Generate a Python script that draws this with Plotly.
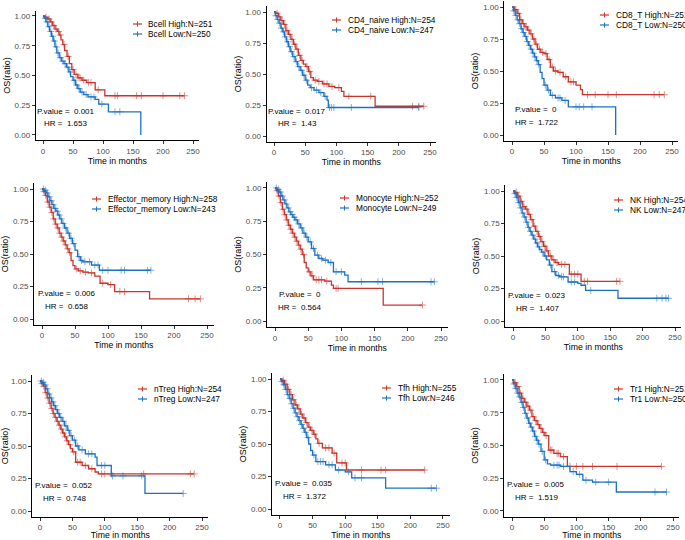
import numpy as np
import plotly.graph_objects as go

W, H = 685, 540
RED = "#C9352B"
BLUE = "#1B72C4"
FONT = "Liberation Sans, Arial, sans-serif"

cells = ["Bcell", "CD4_naive", "CD8_T", "Effector_memory", "Monocyte",
         "NK", "nTreg", "Tfh", "Tr1"]
n_high = [251, 254, 251, 258, 252, 254, 254, 255, 251]
n_low = [250, 247, 250, 243, 249, 247, 247, 246, 250]
p_values = ["0.001", "0.017", "0", "0.006", "0", "0.023", "0.052", "0.035", "0.005"]
hr_values = ["1.653", "1.43", "1.722", "0.658", "0.564", "1.407", "0.748", "1.372", "1.519"]

# event times (months), survival after each event, censor times
bcell_hi_t = [3, 8, 12, 16, 20, 24, 27, 30, 33, 36, 40, 44, 48, 52, 58, 65, 73, 87, 103]
bcell_hi_s = [0.99, 0.975, 0.95, 0.92, 0.89, 0.87, 0.84, 0.80, 0.76, 0.71, 0.66, 0.60, 0.55, 0.51, 0.48, 0.46, 0.44, 0.38, 0.33]
bcell_hi_c = [5, 10, 14, 18, 22, 26, 29, 35, 42, 50, 55, 60, 62, 68, 76, 80, 92, 120, 124, 156, 164, 200, 228, 236]
bcell_lo_t = [2, 5, 8, 11, 14, 17, 20, 23, 27, 31, 35, 39, 43, 46, 50, 54, 58, 62, 68, 75, 87, 93, 109, 163]
bcell_lo_s = [0.98, 0.95, 0.91, 0.87, 0.83, 0.79, 0.74, 0.69, 0.65, 0.62, 0.60, 0.57, 0.53, 0.49, 0.46, 0.42, 0.39, 0.36, 0.34, 0.32, 0.30, 0.26, 0.195, 0.0]
bcell_lo_c = [4, 7, 10, 13, 16, 19, 22, 25, 29, 33, 37, 41, 45, 52, 56, 60, 65, 72, 80, 85, 98, 120, 128]

cd4_hi_t = [3, 7, 11, 15, 19, 23, 27, 31, 35, 39, 43, 47, 51, 55, 59, 63, 70, 78, 88, 97, 108, 112, 162]
cd4_hi_s = [0.99, 0.96, 0.93, 0.90, 0.85, 0.82, 0.78, 0.74, 0.70, 0.65, 0.61, 0.58, 0.56, 0.52, 0.47, 0.45, 0.44, 0.42, 0.40, 0.39, 0.36, 0.32, 0.24]
cd4_hi_c = [5, 9, 13, 17, 21, 25, 29, 33, 37, 41, 45, 53, 57, 66, 72, 80, 85, 93, 104, 120, 155, 222, 232, 240]
cd4_lo_t = [2, 5, 8, 11, 14, 17, 20, 23, 26, 30, 34, 38, 42, 46, 50, 54, 58, 64, 72, 80, 85, 87]
cd4_lo_s = [0.97, 0.94, 0.91, 0.87, 0.84, 0.80, 0.76, 0.72, 0.68, 0.64, 0.60, 0.56, 0.53, 0.49, 0.45, 0.41, 0.39, 0.37, 0.35, 0.32, 0.29, 0.23]
cd4_lo_c = [3, 6, 9, 12, 15, 18, 22, 25, 28, 32, 36, 40, 44, 48, 52, 60, 68, 75, 82, 89, 92, 96, 124, 232]

cd8_hi_t = [4, 8, 12, 16, 20, 24, 28, 32, 36, 40, 45, 50, 55, 60, 65, 72, 80, 88, 100, 107, 110]
cd8_hi_s = [0.98, 0.95, 0.90, 0.87, 0.845, 0.82, 0.79, 0.75, 0.71, 0.67, 0.645, 0.635, 0.59, 0.53, 0.50, 0.49, 0.455, 0.415, 0.39, 0.355, 0.315]
cd8_hi_c = [6, 10, 14, 18, 22, 26, 30, 34, 38, 43, 48, 53, 58, 63, 68, 75, 84, 92, 96, 118, 130, 150, 163, 222, 230, 238]
cd8_lo_t = [2, 5, 8, 11, 14, 17, 20, 23, 26, 29, 32, 35, 38, 41, 44, 47, 50, 55, 60, 68, 78, 88, 162]
cd8_lo_s = [0.97, 0.935, 0.90, 0.87, 0.83, 0.80, 0.77, 0.73, 0.70, 0.67, 0.64, 0.61, 0.58, 0.55, 0.49, 0.44, 0.39, 0.35, 0.31, 0.29, 0.27, 0.22, 0.0]
cd8_lo_c = [3, 6, 9, 12, 15, 18, 21, 24, 27, 30, 33, 36, 39, 42, 52, 57, 63, 72, 75, 83, 100, 105, 112, 125]

em_hi_t = [2, 5, 8, 11, 14, 17, 20, 23, 26, 29, 32, 35, 38, 41, 44, 47, 50, 55, 62, 70, 80, 88, 100, 110, 163]
em_hi_s = [0.98, 0.95, 0.90, 0.86, 0.82, 0.77, 0.73, 0.70, 0.66, 0.63, 0.60, 0.57, 0.54, 0.51, 0.45, 0.41, 0.385, 0.37, 0.36, 0.355, 0.33, 0.275, 0.265, 0.21, 0.155]
em_hi_c = [3, 6, 9, 12, 15, 18, 21, 24, 27, 30, 33, 36, 39, 42, 52, 58, 66, 75, 92, 104, 118, 125, 222, 232, 240]
em_lo_t = [3, 6, 9, 12, 15, 18, 21, 24, 27, 30, 34, 38, 42, 46, 50, 54, 58, 62, 75, 87]
em_lo_s = [0.99, 0.97, 0.94, 0.91, 0.88, 0.85, 0.83, 0.80, 0.77, 0.735, 0.70, 0.66, 0.62, 0.58, 0.53, 0.48, 0.45, 0.44, 0.415, 0.375]
em_lo_c = [2, 5, 8, 11, 14, 17, 20, 23, 26, 29, 32, 36, 40, 44, 48, 56, 60, 65, 72, 80, 85, 92, 100, 120, 125, 160, 165]

mono_hi_t = [2, 5, 8, 11, 14, 17, 20, 23, 26, 29, 32, 35, 38, 41, 44, 47, 50, 54, 58, 75, 85, 88, 163]
mono_hi_s = [0.98, 0.94, 0.89, 0.84, 0.80, 0.76, 0.72, 0.69, 0.66, 0.63, 0.60, 0.57, 0.54, 0.50, 0.44, 0.40, 0.37, 0.34, 0.31, 0.30, 0.27, 0.245, 0.12]
mono_hi_c = [3, 6, 9, 12, 15, 18, 21, 24, 27, 30, 33, 36, 39, 43, 52, 56, 62, 66, 70, 78, 92, 95, 222]
mono_lo_t = [3, 6, 9, 12, 15, 18, 21, 24, 27, 30, 34, 38, 42, 46, 50, 55, 60, 66, 72, 80, 88, 105, 110]
mono_lo_s = [0.99, 0.97, 0.94, 0.91, 0.88, 0.85, 0.82, 0.80, 0.78, 0.76, 0.73, 0.70, 0.66, 0.63, 0.595, 0.545, 0.495, 0.47, 0.457, 0.44, 0.37, 0.345, 0.295]
mono_lo_c = [2, 5, 8, 11, 14, 17, 20, 23, 26, 29, 32, 36, 40, 44, 48, 53, 58, 64, 70, 76, 84, 92, 100, 130, 155, 162, 235, 240]

nk_hi_t = [3, 7, 11, 15, 19, 23, 27, 31, 35, 39, 43, 47, 51, 55, 60, 65, 70, 87, 105]
nk_hi_s = [0.99, 0.96, 0.92, 0.88, 0.86, 0.82, 0.78, 0.73, 0.69, 0.65, 0.61, 0.575, 0.54, 0.50, 0.47, 0.45, 0.435, 0.36, 0.305]
nk_hi_c = [5, 9, 13, 17, 21, 25, 29, 33, 37, 41, 45, 49, 53, 58, 63, 68, 75, 80, 90, 95, 100, 110, 115, 160, 165]
nk_lo_t = [2, 5, 8, 11, 14, 17, 20, 23, 26, 29, 32, 35, 38, 41, 44, 48, 52, 56, 60, 66, 72, 85, 100, 105, 112, 162]
nk_lo_s = [0.98, 0.95, 0.91, 0.87, 0.83, 0.80, 0.76, 0.72, 0.69, 0.66, 0.63, 0.60, 0.57, 0.55, 0.53, 0.50, 0.47, 0.43, 0.38, 0.35, 0.34, 0.30, 0.29, 0.275, 0.235, 0.175]
nk_lo_c = [3, 6, 9, 12, 15, 18, 21, 24, 27, 30, 34, 37, 40, 46, 50, 58, 64, 70, 75, 78, 90, 95, 120, 222, 230, 236, 240]

ntreg_hi_t = [2, 5, 8, 11, 14, 17, 20, 23, 26, 29, 32, 35, 38, 41, 44, 47, 50, 55, 65, 75, 85, 90]
ntreg_hi_s = [0.98, 0.96, 0.91, 0.87, 0.83, 0.79, 0.75, 0.72, 0.69, 0.66, 0.63, 0.60, 0.57, 0.54, 0.51, 0.48, 0.455, 0.375, 0.35, 0.325, 0.30, 0.285]
ntreg_hi_c = [3, 6, 9, 12, 15, 18, 21, 24, 27, 30, 33, 36, 39, 42, 46, 52, 58, 62, 70, 80, 95, 100, 110, 160, 232, 238]
ntreg_lo_t = [3, 6, 9, 12, 15, 18, 21, 24, 27, 30, 34, 38, 42, 46, 50, 55, 60, 70, 85, 88, 110, 162]
ntreg_lo_s = [0.99, 0.97, 0.94, 0.90, 0.87, 0.84, 0.81, 0.78, 0.75, 0.72, 0.69, 0.655, 0.62, 0.58, 0.545, 0.50, 0.47, 0.44, 0.415, 0.35, 0.27, 0.135]
ntreg_lo_c = [2, 5, 8, 11, 14, 17, 20, 23, 26, 29, 32, 36, 40, 44, 48, 53, 58, 65, 75, 80, 95, 100, 112, 128, 157, 221]

tfh_hi_t = [3, 7, 11, 15, 19, 23, 27, 31, 35, 39, 43, 47, 51, 55, 58, 65, 80, 87, 102]
tfh_hi_s = [0.99, 0.96, 0.92, 0.88, 0.84, 0.80, 0.77, 0.73, 0.70, 0.665, 0.63, 0.605, 0.575, 0.54, 0.505, 0.47, 0.43, 0.355, 0.30]
tfh_hi_c = [5, 9, 13, 17, 21, 25, 29, 33, 37, 41, 45, 49, 53, 60, 70, 75, 83, 95, 100, 125, 155, 162, 222]
tfh_lo_t = [2, 5, 8, 11, 14, 17, 20, 23, 26, 29, 32, 35, 38, 41, 44, 47, 50, 55, 70, 85, 100, 110, 162]
tfh_lo_s = [0.98, 0.955, 0.92, 0.88, 0.85, 0.81, 0.775, 0.74, 0.71, 0.68, 0.65, 0.62, 0.59, 0.55, 0.50, 0.45, 0.415, 0.365, 0.34, 0.30, 0.285, 0.24, 0.16]
tfh_lo_c = [3, 6, 9, 12, 15, 18, 21, 24, 27, 30, 33, 36, 39, 43, 52, 58, 62, 66, 75, 80, 90, 105, 115, 125, 232, 240]

tr1_hi_t = [3, 7, 11, 15, 19, 23, 27, 31, 35, 39, 43, 47, 51, 57, 65, 75, 86]
tr1_hi_s = [0.98, 0.95, 0.90, 0.86, 0.83, 0.80, 0.77, 0.72, 0.69, 0.66, 0.63, 0.60, 0.575, 0.465, 0.44, 0.415, 0.34]
tr1_hi_c = [5, 9, 13, 17, 21, 25, 29, 33, 37, 41, 45, 49, 53, 60, 62, 70, 72, 80, 90, 100, 110, 125, 163, 232]
tr1_lo_t = [2, 5, 8, 11, 14, 17, 20, 23, 26, 29, 32, 35, 38, 41, 45, 50, 55, 60, 75, 90, 100, 110, 125, 162]
tr1_lo_s = [0.97, 0.935, 0.90, 0.87, 0.83, 0.79, 0.745, 0.71, 0.67, 0.64, 0.61, 0.57, 0.54, 0.51, 0.455, 0.39, 0.36, 0.35, 0.34, 0.30, 0.28, 0.235, 0.22, 0.145]
tr1_lo_c = [3, 6, 9, 12, 15, 18, 21, 24, 27, 30, 33, 36, 39, 42, 47, 52, 65, 70, 73, 80, 95, 105, 115, 130, 150, 222, 240]

curves = [
    (bcell_hi_t, bcell_hi_s, bcell_hi_c, bcell_lo_t, bcell_lo_s, bcell_lo_c),
    (cd4_hi_t, cd4_hi_s, cd4_hi_c, cd4_lo_t, cd4_lo_s, cd4_lo_c),
    (cd8_hi_t, cd8_hi_s, cd8_hi_c, cd8_lo_t, cd8_lo_s, cd8_lo_c),
    (em_hi_t, em_hi_s, em_hi_c, em_lo_t, em_lo_s, em_lo_c),
    (mono_hi_t, mono_hi_s, mono_hi_c, mono_lo_t, mono_lo_s, mono_lo_c),
    (nk_hi_t, nk_hi_s, nk_hi_c, nk_lo_t, nk_lo_s, nk_lo_c),
    (ntreg_hi_t, ntreg_hi_s, ntreg_hi_c, ntreg_lo_t, ntreg_lo_s, ntreg_lo_c),
    (tfh_hi_t, tfh_hi_s, tfh_hi_c, tfh_lo_t, tfh_lo_s, tfh_lo_c),
    (tr1_hi_t, tr1_hi_s, tr1_hi_c, tr1_lo_t, tr1_lo_s, tr1_lo_c),
]

# layout: pixel position of x=0, x=250, y=1, y=0 in each panel
boxes = [(43, 193, 16, 135), (274, 430, 12, 136), (512, 672, 7, 135),
         (42, 207, 189, 319), (275, 441, 188, 321), (513, 675, 191, 321),
         (40, 202, 381, 511), (280, 443, 379, 509), (512, 673, 380, 511)]
# legend: key left x, text x, first row y (px)
legend_pos = [(133, 146, 24), (332, 346, 20), (600, 614, 15),
              (92, 106, 199), (340, 354, 198), (614, 628, 200),
              (138, 152, 389), (382, 396, 388), (614, 628, 389)]
XR = [-12, 260]
YR = [-0.045, 1.045]


def step_xy(t, s, c):
    x = [0] + list(t)
    y = [1.0] + list(s)
    end = max(t[-1], c[-1])
    if end > t[-1]:
        x.append(end)
        y.append(s[-1])
    return x, y


def surv_at(t, s, c):
    idx = np.searchsorted(np.array(t), np.array(c), side="right")
    vals = np.concatenate([[1.0], s])
    return vals[idx]


fig = go.Figure()
shapes = []
annotations = []

for i, (name, box, lp) in enumerate(zip(cells, boxes, legend_pos)):
    k = i + 1
    xa, ya = f"x{k}", f"y{k}"
    hi_t, hi_s, hi_c, lo_t, lo_s, lo_c = curves[i]
    for t, s, c, col in [(hi_t, hi_s, hi_c, RED), (lo_t, lo_s, lo_c, BLUE)]:
        x, y = step_xy(t, s, c)
        fig.add_trace(go.Scatter(x=x, y=y, mode="lines", line=dict(color=col, width=1.3, shape="hv"),
                                 xaxis=xa, yaxis=ya, showlegend=False, hoverinfo="skip"))
        fig.add_trace(go.Scatter(x=c, y=surv_at(t, s, c), mode="markers",
                                 marker=dict(symbol="cross-thin", size=5, opacity=0.55,
                                             line=dict(color=col, width=1)),
                                 xaxis=xa, yaxis=ya, showlegend=False, hoverinfo="skip"))

    x0, x250, y1, y0 = box
    ppx = (x250 - x0) / 250
    ppy = y0 - y1
    left = x0 + XR[0] * ppx
    right = x0 + XR[1] * ppx
    top = y1 - (YR[1] - 1) * ppy
    bottom = y0 - YR[0] * ppy
    axis_common = dict(showline=True, linecolor="black", linewidth=1, ticks="outside", ticklen=3,
                       tickcolor="#333333", tickfont=dict(size=8, color="#4D4D4D", family=FONT),
                       showgrid=False, zeroline=False, automargin=False)
    fig.layout[f"xaxis{k}"] = dict(domain=[left / W, min(right / W, 1)], anchor=ya, range=XR,
                                   tickvals=[0, 50, 100, 150, 200, 250],
                                   title=dict(text="Time in months", font=dict(size=8.7, family=FONT, color="black"),
                                              standoff=0),
                                   **axis_common)
    fig.layout[f"yaxis{k}"] = dict(domain=[1 - bottom / H, 1 - top / H], anchor=xa, range=YR,
                                   tickvals=[0, 0.25, 0.5, 0.75, 1.0], tickformat=".2f",
                                   title=dict(text="OS(ratio)", font=dict(size=9, family=FONT, color="black"),
                                              standoff=2),
                                   **axis_common)

    annotations.append(dict(x=37.5, y=0.2, xref=xa, yref=ya, text=f"P.value =  {p_values[i]}",
                            showarrow=False, font=dict(size=8, family=FONT, color="black")))
    annotations.append(dict(x=37.5, y=0.1, xref=xa, yref=ya, text=f"HR =  {hr_values[i]}",
                            showarrow=False, font=dict(size=8, family=FONT, color="black")))

    kx, tx, ry = lp
    labels = [f"{name} High:N={n_high[i]}", f"{name} Low:N={n_low[i]}"]
    for j, (lab, col) in enumerate(zip(labels, [RED, BLUE])):
        yy = ry + j * 10
        shapes.append(dict(type="line", xref="paper", yref="paper", x0=kx / W, x1=(kx + 9) / W,
                           y0=1 - yy / H, y1=1 - yy / H, line=dict(color=col, width=1.2)))
        shapes.append(dict(type="line", xref="paper", yref="paper", x0=(kx + 4.5) / W, x1=(kx + 4.5) / W,
                           y0=1 - (yy - 2.5) / H, y1=1 - (yy + 2.5) / H, line=dict(color=col, width=1)))
        annotations.append(dict(x=tx / W, y=1 - yy / H, xref="paper", yref="paper", text=lab,
                                xanchor="left", yanchor="middle", showarrow=False,
                                font=dict(size=8.3, family=FONT, color="black")))

fig.update_layout(width=W, height=H, margin=dict(l=0, r=0, t=0, b=0),
                  plot_bgcolor="white", paper_bgcolor="white",
                  shapes=shapes, annotations=annotations, showlegend=False,
                  font=dict(family=FONT))
# the page body has a default 8px margin; drop it so the figure sits at the window corner
fig.write_html("out.html", config={"displayModeBar": False},
               post_script="document.body.style.margin='0';")
